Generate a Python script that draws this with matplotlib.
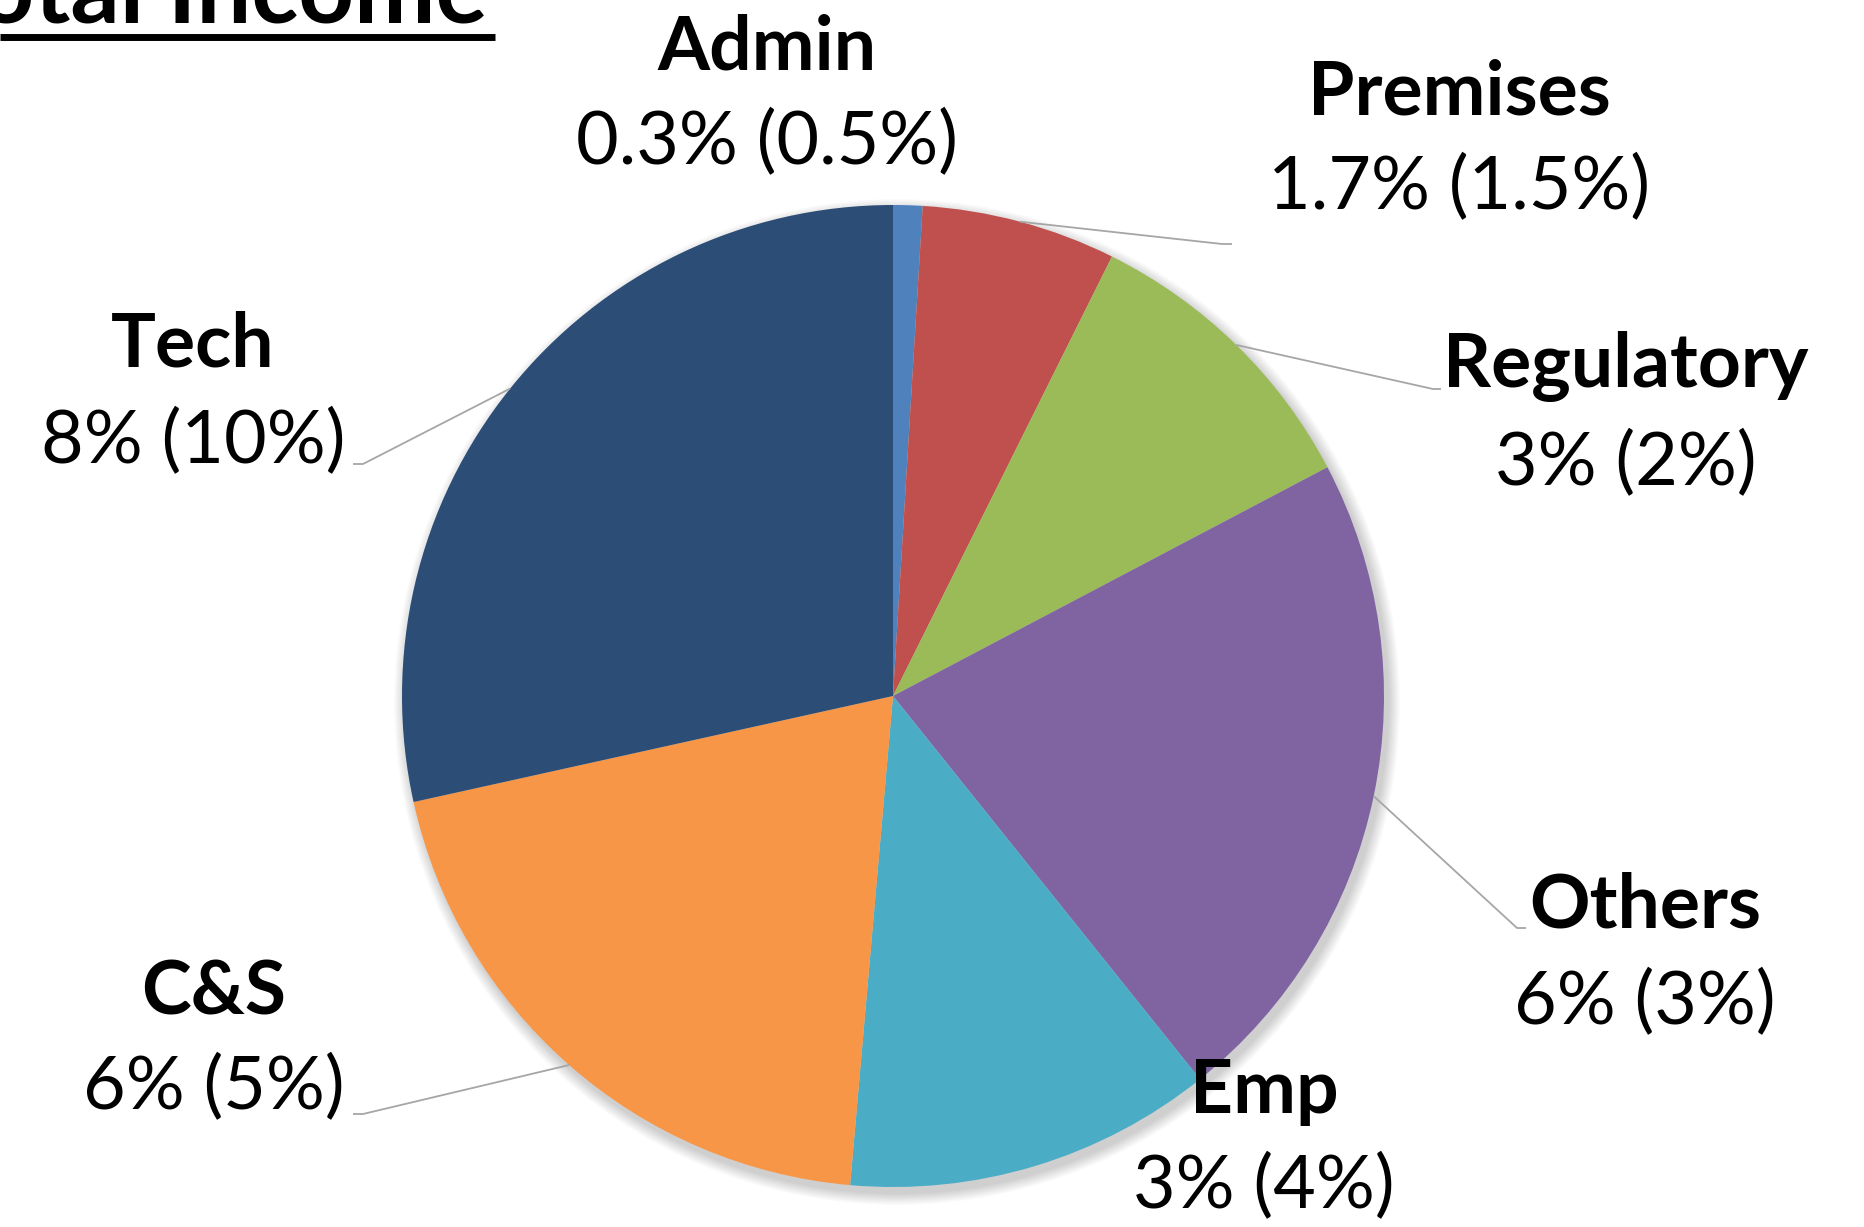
import numpy as np
import matplotlib.pyplot as plt

# Cost share of total income, current year (prior year in brackets)
categories = ['Admin', 'Premises', 'Regulatory', 'Others', 'Emp', 'C&S', 'Tech']
# slice sizes (% of income, labels are rounded)
values = [0.27, 1.79, 2.78, 6.15, 3.40, 5.64, 7.97]
value_labels = ['0.3% (0.5%)', '1.7% (1.5%)', '3% (2%)', '6% (3%)',
                '3% (4%)', '6% (5%)', '8% (10%)']
colors = ['#4F81BD', '#C0504D', '#9BBB59', '#8064A2', '#4BACC6', '#F79646', '#2C4D75']

W, H = 1865, 1227
CX, CY, R = 893, 696, 491   # pie centre / radius in image pixels (y from top)

# label layout: (name centre, value centre) in image pixels
label_pos = {
    'Admin':      ((767, 48),   (767, 143)),
    'Premises':   ((1459, 93),  (1459, 188)),
    'Regulatory': ((1626, 366), (1626, 464)),
    'Others':     ((1645, 906), (1645, 1003)),
    'Emp':        ((1264, 1092), (1264, 1187)),
    'C&S':        ((214, 993),  (214, 1088)),
    'Tech':       ((193, 345),  (193, 442)),
}
# leader line elbow and end (image pixels)
leaders = {
    'Premises':   ((1222, 244), (1232, 244)),
    'Regulatory': ((1433, 389), (1441, 389)),
    'Others':     ((1517, 928), (1526, 928)),
    'C&S':        ((363, 1114), (353, 1114)),
    'Tech':       ((363, 464),  (353, 464)),
}

FONT = 'Lato'
NAME_SIZE = 54
VALUE_SIZE = 53


def fy(y):
    return H - y


fig = plt.figure(figsize=(W / 100, H / 100), dpi=100)
ax = fig.add_axes([0, 0, 1, 1])

# soft shadow under the pie
for k in range(12):
    ax.add_patch(plt.Circle((CX + 4, fy(CY) - 6), R + 12 - k, color='black',
                            alpha=0.014, lw=0, zorder=1))

wedges, _ = ax.pie(values, colors=colors, startangle=90, counterclock=False,
                   radius=R, center=(CX, fy(CY)), frame=True,
                   wedgeprops=dict(linewidth=0, zorder=2))
ax.set_xlim(0, W)
ax.set_ylim(0, H)
ax.axis('off')

for name, w, vlab in zip(categories, wedges, value_labels):
    (nx, ny), (vx, vy) = label_pos[name]
    ax.text(nx, fy(ny), name, family=FONT, fontweight='bold', fontsize=NAME_SIZE,
            ha='center', va='center', zorder=5)
    ax.text(vx, fy(vy), vlab, family=FONT, fontsize=VALUE_SIZE,
            ha='center', va='center', zorder=5)
    if name in leaders:
        mid = np.deg2rad((w.theta1 + w.theta2) / 2)
        sx = CX + R * np.cos(mid)
        sy = fy(CY) + R * np.sin(mid)
        (ex, ey), (tx, ty) = leaders[name]
        ax.plot([sx, ex, tx], [sy, fy(ey), fy(ty)], color='#A6A6A6', lw=1.3,
                zorder=4, solid_capstyle='butt')

# chart title, cut off at the top-left corner as in the source slide
ax.text(488, fy(22), 'Total Income', family=FONT, fontweight='bold',
        fontsize=70, ha='right', va='baseline', zorder=5)
ax.plot([0, 495], [fy(36.5), fy(36.5)], color='black', lw=5, solid_capstyle='butt')

fig.savefig('out.png', dpi=100)
